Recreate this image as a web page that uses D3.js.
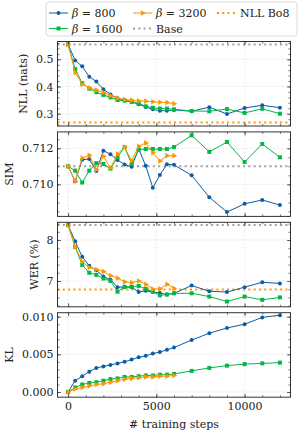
<!DOCTYPE html>
<html>
<head>
<meta charset="utf-8">
<script src="https://cdn.jsdelivr.net/npm/d3@7/dist/d3.min.js"></script>
<style>
  body { margin: 0; background: #fff; }
  svg { display: block; font-family: "DejaVu Serif", serif; }
  .tick text { font-family: "DejaVu Serif", serif; }
</style>
</head>
<body>
<div id="plot"></div>
<script>
// training steps (orange run stops at 6000)
const steps = [0, 400, 800, 1200, 1600, 2000, 2400, 2800, 3200, 3600, 4000, 4400, 4800, 5200, 5600, 6000,
  7000, 8000, 9000, 10000, 11000, 12000];
const stepsShort = steps.slice(0, 16);

// NLL (nats)
const nll800 = [0.555, 0.496, 0.474, 0.436, 0.418, 0.390, 0.371, 0.357, 0.349, 0.343, 0.335, 0.325, 0.316, 0.311, 0.311, 0.314,
  0.309, 0.324, 0.299, 0.321, 0.331, 0.322];
const nll1600 = [0.555, 0.464, 0.412, 0.392, 0.379, 0.369, 0.360, 0.350, 0.348, 0.344, 0.338, 0.327, 0.322, 0.319, 0.319, 0.316,
  0.310, 0.309, 0.317, 0.303, 0.318, 0.300];
const nll3200 = [0.555, 0.451, 0.408, 0.395, 0.387, 0.378, 0.366, 0.357, 0.352, 0.349, 0.347, 0.346, 0.344, 0.342, 0.341, 0.337];
const nllBase = 0.554, nllBo8 = 0.268;

// SIM
const sim800 = [0.7110, 0.71017, 0.71137, 0.7114, 0.71074, 0.71187, 0.71167, 0.71135, 0.7111, 0.71098, 0.71196, 0.71103, 0.70981,
  0.71052, 0.71111, 0.71108, 0.71050, 0.70928, 0.70846, 0.70892, 0.70913, 0.70885];
const sim1600 = [0.7110, 0.71076, 0.7101, 0.71076, 0.71118, 0.71113, 0.71087, 0.7115, 0.71206, 0.71113, 0.71192, 0.71196, 0.71196,
  0.71196, 0.71196, 0.71207, 0.71272, 0.7118, 0.71235, 0.71124, 0.71224, 0.7115];
const sim3200 = [0.7110, 0.71017, 0.71146, 0.71161, 0.71081, 0.71156, 0.7109, 0.71168, 0.71207, 0.71131, 0.71211, 0.7123, 0.71176,
  0.71129, 0.71159, 0.71159];
const simBase = 0.711;

// WER (%)
const wer800 = [8.366, 7.97, 7.59, 7.37, 7.26, 7.11, 7.03, 6.85, 6.85, 6.85, 6.73, 6.76, 6.73, 6.71, 6.67, 6.70,
  6.89, 6.75, 6.73, 6.85, 6.97, 6.94];
const wer1600 = [8.366, 7.83, 7.39, 7.20, 7.15, 7.06, 7.00, 6.74, 6.86, 6.86, 6.88, 6.81, 6.74, 6.65, 6.67, 6.70,
  6.70, 6.62, 6.50, 6.62, 6.54, 6.60];
const wer3200 = [8.366, 7.84, 7.47, 7.33, 7.28, 7.23, 7.13, 7.07, 6.98, 6.96, 7.00, 6.92, 6.80, 6.81, 6.92, 6.82];
const werBase = 8.366, werBo8 = 6.79;

// KL
const kl800 = [0.0000, 0.0015, 0.0021, 0.0027, 0.0032, 0.0034, 0.0036, 0.0038, 0.0040, 0.0043, 0.0046, 0.0048, 0.0051,
  0.0053, 0.0056, 0.0059, 0.0069, 0.0078, 0.0085, 0.0090, 0.0099, 0.0102];
const kl1600 = [0.0000, 0.0006, 0.0010, 0.0012, 0.0013, 0.0015, 0.0017, 0.0018, 0.0020, 0.0020, 0.0021, 0.0022, 0.0022,
  0.0023, 0.0023, 0.0024, 0.0028, 0.0032, 0.0035, 0.0037, 0.0038, 0.0039];
const kl3200 = [0.0000, 0.0004, 0.0006, 0.0008, 0.0010, 0.0011, 0.0013, 0.0015, 0.0017, 0.0018, 0.0019, 0.0020, 0.0020,
  0.0021, 0.0021, 0.0022];

const xTicks = [0, 5000, 10000];

const colors = { b800: "#0C5DA5", b1600: "#00B945", b3200: "#FF9500", base: "#9e9e9e" };

const W = 302, H = 435;
const left = 57.5, right = 290.5;
const panelTop = 41.5, panelH = 84.5, panelGap = 5.9;

const svg = d3.select("#plot").append("svg").attr("width", W).attr("height", H);

const x = d3.scaleLinear().domain([-600, 12600]).range([left, right]);

const panels = [
  { label: "NLL (nats)", domain: [0.2548, 0.5654], ticks: [0.3, 0.4, 0.5], minor: 0.02, fmt: d3.format(".1f"),
    data: [nll800, nll1600, nll3200], base: nllBase, bo8: nllBo8 },
  { label: "SIM", domain: [0.70822, 0.71291], ticks: [0.710, 0.712], minor: 0.0005, fmt: d3.format(".3f"),
    data: [sim800, sim1600, sim3200], base: simBase, bo8: null },
  { label: "WER (%)", domain: [6.3707, 8.4317], ticks: [7, 8], minor: 0.2, fmt: d3.format("d"),
    data: [wer800, wer1600, wer3200], base: werBase, bo8: werBo8 },
  { label: "KL", domain: [-0.00069, 0.010527], ticks: [0, 0.005, 0.010], minor: 0.001, fmt: d3.format(".3f"),
    data: [kl800, kl1600, kl3200], base: null, bo8: null }
];

const seriesStyle = [
  { color: colors.b800, marker: "circle", xs: steps },
  { color: colors.b1600, marker: "square", xs: steps },
  { color: colors.b3200, marker: "triangle", xs: stepsShort }
];

function drawMarker(sel, marker, color) {
  if (marker === "circle") {
    sel.append("circle").attr("r", 2).attr("fill", color);
  } else if (marker === "square") {
    sel.append("rect").attr("x", -2).attr("y", -2).attr("width", 4).attr("height", 4).attr("fill", color);
  } else {
    sel.append("path").attr("d", d3.symbol(d3.symbolTriangle, 14)()).attr("transform", "rotate(90)").attr("fill", color);
  }
}

function range(lo, hi, step) {
  const out = [];
  const start = Math.ceil(lo / step - 1e-9);
  for (let k = start; k * step <= hi + 1e-12; k++) out.push(+(k * step).toFixed(8));
  return out;
}

panels.forEach((p, i) => {
  const top = panelTop + i * (panelH + panelGap);
  const bottom = top + panelH;
  const y = d3.scaleLinear().domain(p.domain).range([bottom, top]);
  const g = svg.append("g");

  // grid
  g.append("g").selectAll("line").data(xTicks).join("line")
    .attr("x1", d => x(d)).attr("x2", d => x(d)).attr("y1", top).attr("y2", bottom)
    .attr("stroke", "#d6d6d6").attr("stroke-width", 0.6).attr("stroke-dasharray", "2,2");
  g.append("g").selectAll("line").data(p.ticks).join("line")
    .attr("x1", left).attr("x2", right).attr("y1", d => y(d)).attr("y2", d => y(d))
    .attr("stroke", "#d6d6d6").attr("stroke-width", 0.6).attr("stroke-dasharray", "2,2");

  // reference lines
  if (p.base !== null) {
    g.append("line").attr("x1", left).attr("x2", right).attr("y1", y(p.base)).attr("y2", y(p.base))
      .attr("stroke", colors.base).attr("stroke-width", 2).attr("stroke-dasharray", "2,3.3");
  }
  if (p.bo8 !== null) {
    g.append("line").attr("x1", left).attr("x2", right).attr("y1", y(p.bo8)).attr("y2", y(p.bo8))
      .attr("stroke", colors.b3200).attr("stroke-width", 2).attr("stroke-dasharray", "2,3.3");
  }

  // series
  p.data.forEach((vals, s) => {
    const st = seriesStyle[s];
    const pts = vals.map((v, k) => [st.xs[k], v]);
    g.append("path").datum(pts)
      .attr("fill", "none").attr("stroke", st.color).attr("stroke-width", 1)
      .attr("d", d3.line().x(d => x(d[0])).y(d => y(d[1])));
    g.append("g").selectAll("g").data(pts).join("g")
      .attr("transform", d => `translate(${x(d[0])},${y(d[1])})`)
      .each(function () { drawMarker(d3.select(this), st.marker, st.color); });
  });

  // axes with inward ticks on all four sides
  const yMinor = range(p.domain[0], p.domain[1], p.minor);
  const xMinor = range(-600, 12600, 1000);
  const clean = a => a.call(s => s.select(".domain").remove());

  const yAxisL = g.append("g").attr("transform", `translate(${left},0)`)
    .call(d3.axisLeft(y).tickValues(p.ticks).tickFormat(p.fmt).tickSize(-3.5).tickPadding(4));
  clean(yAxisL);
  yAxisL.selectAll("text").attr("font-size", 11).attr("fill", "#222");
  clean(g.append("g").attr("transform", `translate(${left},0)`)
    .call(d3.axisLeft(y).tickValues(yMinor).tickFormat("").tickSize(-2)));
  clean(g.append("g").attr("transform", `translate(${right},0)`)
    .call(d3.axisRight(y).tickValues(p.ticks).tickFormat("").tickSize(-3.5)));
  clean(g.append("g").attr("transform", `translate(${right},0)`)
    .call(d3.axisRight(y).tickValues(yMinor).tickFormat("").tickSize(-2)));

  const xAxisB = g.append("g").attr("transform", `translate(0,${bottom})`)
    .call(d3.axisBottom(x).tickValues(xTicks).tickFormat(i === panels.length - 1 ? d3.format("d") : "")
      .tickSize(-3.5).tickPadding(5));
  clean(xAxisB);
  xAxisB.selectAll("text").attr("font-size", 11).attr("fill", "#222");
  clean(g.append("g").attr("transform", `translate(0,${bottom})`)
    .call(d3.axisBottom(x).tickValues(xMinor).tickFormat("").tickSize(-2)));
  clean(g.append("g").attr("transform", `translate(0,${top})`)
    .call(d3.axisTop(x).tickValues(xTicks).tickFormat("").tickSize(-3.5)));
  clean(g.append("g").attr("transform", `translate(0,${top})`)
    .call(d3.axisTop(x).tickValues(xMinor).tickFormat("").tickSize(-2)));
  g.selectAll(".tick line").attr("stroke", "#333").attr("stroke-width", 0.7);

  // frame
  g.append("rect").attr("x", left).attr("y", top).attr("width", right - left).attr("height", panelH)
    .attr("fill", "none").attr("stroke", "#333").attr("stroke-width", 1);

  // y label, placed left of the tick labels
  const bb = yAxisL.node().getBBox();
  g.append("text")
    .attr("transform", `translate(${left + bb.x - 9},${(top + bottom) / 2}) rotate(-90)`)
    .attr("text-anchor", "middle")
    .attr("font-size", 11).attr("fill", "#222")
    .text(p.label);
});

// x label
svg.append("text")
  .attr("x", (left + right) / 2).attr("y", 428)
  .attr("text-anchor", "middle").attr("font-size", 11).attr("fill", "#222")
  .text("# training steps");

// legend (matplotlib column-major order, 3 columns)
const legend = svg.append("g");
legend.append("rect").attr("x", 46).attr("y", 2).attr("width", 251).attr("height", 34).attr("rx", 3)
  .attr("fill", "#fff").attr("fill-opacity", 0.85).attr("stroke", "#d0d0d0").attr("stroke-width", 0.8);

const legendItems = [
  { beta: "800", color: colors.b800, marker: "circle", dash: null, col: 0, row: 0 },
  { beta: "1600", color: colors.b1600, marker: "square", dash: null, col: 0, row: 1 },
  { beta: "3200", color: colors.b3200, marker: "triangle", dash: null, col: 1, row: 0 },
  { text: "Base", color: colors.base, marker: null, dash: "2,3.3", col: 1, row: 1 },
  { text: "NLL Bo8", color: colors.b3200, marker: null, dash: "2,3.3", col: 2, row: 0 }
];
const colX = [49, 133, 217];
const rowY = [13, 28.5];

legendItems.forEach(it => {
  const lg = legend.append("g").attr("transform", `translate(${colX[it.col]},${rowY[it.row]})`);
  lg.append("line").attr("x1", 0).attr("x2", 19).attr("y1", 0).attr("y2", 0)
    .attr("stroke", it.color).attr("stroke-width", it.dash ? 2 : 1)
    .attr("stroke-dasharray", it.dash);
  if (it.marker) drawMarker(lg.append("g").attr("transform", "translate(9.5,0)"), it.marker, it.color);
  const t = lg.append("text").attr("x", 23).attr("y", 4).attr("font-size", 11).attr("fill", "#222");
  if (it.beta) {
    t.append("tspan").attr("font-style", "italic").text("β");
    t.append("tspan").text(" = " + it.beta);
  } else {
    t.text(it.text);
  }
});
</script>
</body>
</html>
